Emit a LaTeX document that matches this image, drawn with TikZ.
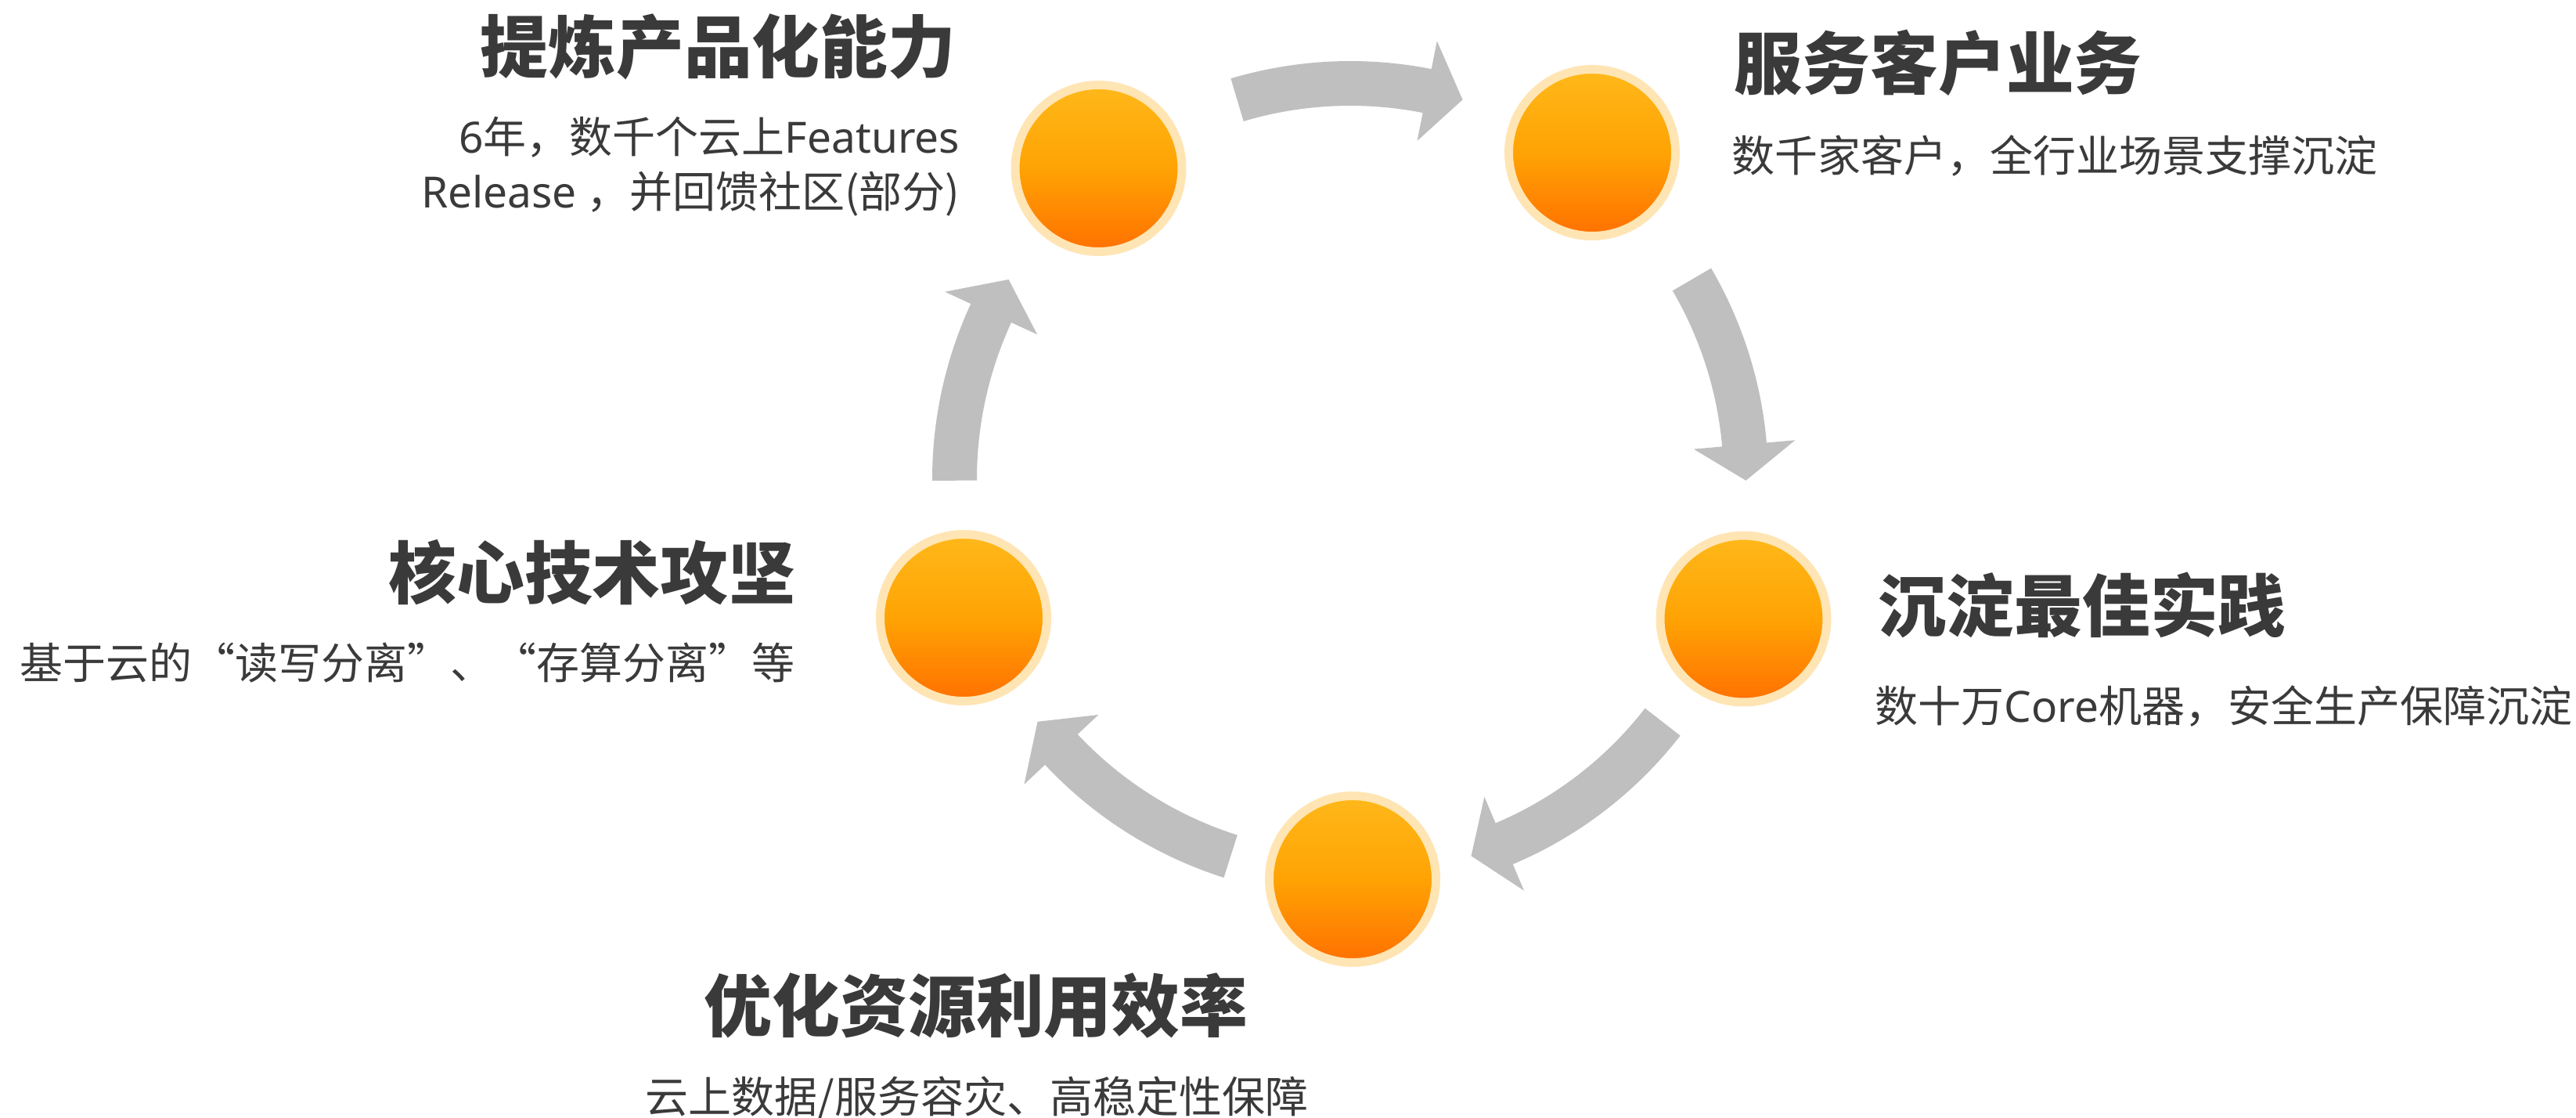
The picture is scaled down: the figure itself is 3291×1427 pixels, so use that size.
\documentclass[tikz,border=0pt]{standalone}
\usepackage{fontspec}
\newfontfamily\cjk{Noto Sans CJK SC}
\newfontfamily\lat{Noto Sans}
\definecolor{ringc}{HTML}{FFE5B4}
\definecolor{gtop}{HTML}{FFB81A}
\definecolor{gmid}{HTML}{FFA304}
\definecolor{gbot}{HTML}{FF7000}
\definecolor{arrowc}{HTML}{BFBFBF}
\definecolor{txt}{HTML}{3A3A3A}
\newcommand\cyclearrow[3]{%
  \fill[arrowc] (#1:534) arc[start angle=#1,end angle=#2,radius=534] -- (#2:570.5) -- (#3:505.5) -- (#2:440.5) -- (#2:477) arc[start angle=#2,end angle=#1,radius=477] -- cycle;}
\tikzset{
  ball/.style={circle, inner sep=0pt, minimum size=53.25pt, draw=ringc, line width=2.75pt,
    top color=gtop, bottom color=gbot, middle color=gmid},
  title/.style={inner sep=0pt, text=txt, font=\cjk\bfseries\fontsize{21.7pt}{26pt}\selectfont},
  sub/.style={inner sep=0pt, text=txt, font=\cjk\fontsize{13.75pt}{17pt}\selectfont},
}
\begin{document}
\begin{tikzpicture}[x=0.25pt,y=0.25pt]
\useasboundingbox (0,0) rectangle (3291,1427);
\fill[white] (0,0) rectangle (3291,1427);
\coordinate (O) at (1725,815);
\begin{scope}[shift={(O)}]
\cyclearrow{106.6}{78.8}{73.5}
\cyclearrow{30.3}{5.0}{-0.2}
\cyclearrow{-37.85}{-67.1}{-72.2}
\cyclearrow{252.4}{223.1}{217.8}
\cyclearrow{180.2}{155.2}{149.7}
\end{scope}
\node[ball] (c1) at (1403.5,1212) {};
\node[ball] (c2) at (2034,1232) {};
\node[ball] (c3) at (2227.5,636.5) {};
\node[ball] (c4) at (1728,304) {};
\node[ball] (c5) at (1231,638) {};
% texts
\node[title, anchor=base east] (t1) at (1222,1334) {提炼产品化能力};
\node[sub, anchor=base east] (s1a) at (1227,1231) {{\lat 6}年，数千个云上{\lat Features}};
\node[sub, anchor=base east] (s1b) at (1227,1161) {{\lat Release} ，并回馈社区(部分)};
\node[title, anchor=base west] (t2) at (2215,1313) {服务客户业务};
\node[sub, anchor=base west] (s2) at (2212,1207) {数千家客户，全行业场景支撑沉淀};
\node[title, anchor=base west] (t3) at (2399,620) {沉淀最佳实践};
\node[sub, anchor=base west] (s3) at (2395,505) {数十万{\lat Core}机器，安全生产保障沉淀};
\node[title, anchor=base] (t4) at (1247,110) {优化资源利用效率};
\node[sub, anchor=base] (s4) at (1248,6) {云上数据/服务容灾、高稳定性保障};
\node[title, anchor=base east] (t5) at (1018,662) {核心技术攻坚};
\node[sub, anchor=base east] (s5) at (1016,559) {基于云的“读写分离”、“存算分离”等};
\end{tikzpicture}
\end{document}
